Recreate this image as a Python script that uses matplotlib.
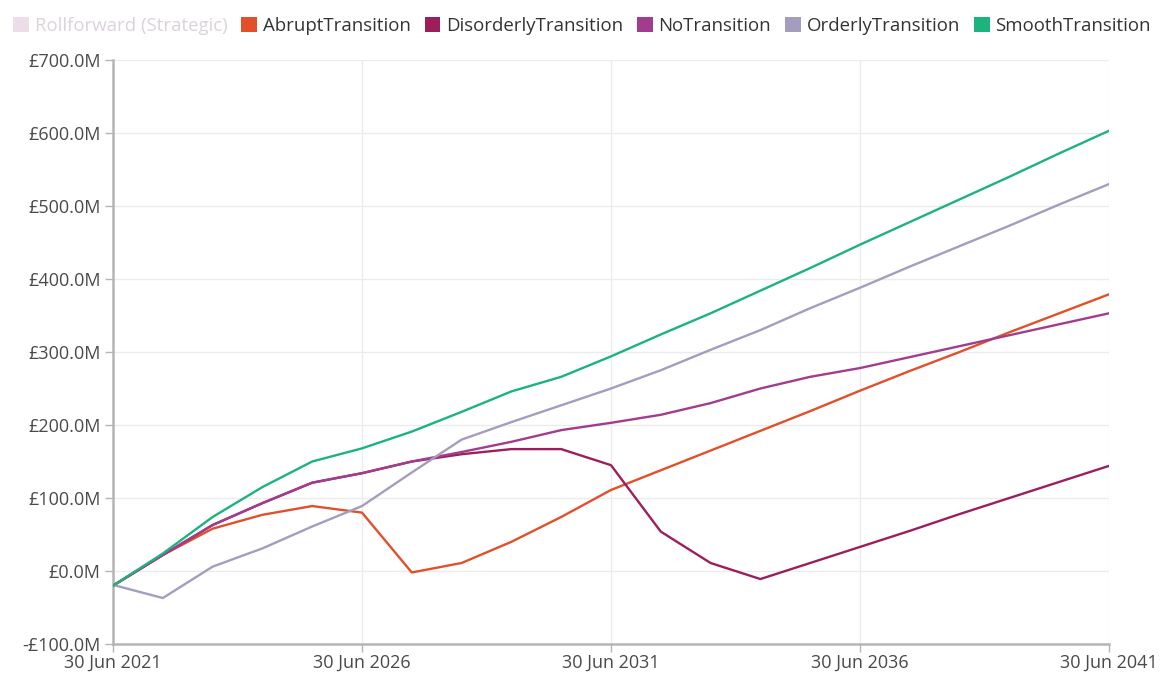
import matplotlib
matplotlib.use("Agg")
import matplotlib.pyplot as plt
from matplotlib.patches import Patch

plt.rcParams['font.family'] = ['Open Sans', 'DejaVu Sans']

years = list(range(2021, 2042))

abrupt = [-20, 22, 58, 77, 89, 80, -2, 11, 40, 74, 111,
          138, 165, 192, 219, 247, 274, 300, 327, 353, 379]
disorderly = [-20, 22, 63, 93, 121, 134, 150, 160, 167, 167, 145,
              54, 11, -11, 11, 33, 55, 78, 100, 122, 144]
no_transition = [-20, 22, 63, 93, 121, 134, 150, 163, 177, 193, 203,
                 214, 230, 250, 266, 278, 293, 308, 323, 338, 353]
orderly = [-19, -37, 6, 31, 61, 89, 135, 180, 204, 227, 250,
           275, 303, 330, 360, 388, 417, 445, 473, 502, 530]
smooth = [-20, 24, 74, 115, 150, 168, 191, 218, 246, 266, 294,
          324, 353, 384, 415, 447, 478, 509, 540, 572, 603]

series = [
    ("AbruptTransition", abrupt, "#E2502B"),
    ("DisorderlyTransition", disorderly, "#9C1F5C"),
    ("NoTransition", no_transition, "#A13C8E"),
    ("OrderlyTransition", orderly, "#A49DBF"),
    ("SmoothTransition", smooth, "#1CB37E"),
]

xtick_years = [2021, 2026, 2031, 2036, 2041]
xtick_labels = ["30 Jun %d" % y for y in xtick_years]
ytick_vals = list(range(-100, 701, 100))
ytick_labels = [("-£%.1fM" % abs(v)) if v < 0 else ("£%.1fM" % v) for v in ytick_vals]

fig = plt.figure(figsize=(11.64, 6.77), dpi=100)
ax = fig.add_axes([0.0971, 0.0487, 0.8556, 0.8627])

for name, vals, col in series:
    ax.plot(years, vals, color=col, linewidth=1.7, zorder=3)

ax.set_xlim(2021, 2041)
ax.set_ylim(-100, 700)
ax.set_xticks(xtick_years)
ax.set_xticklabels(xtick_labels)
ax.set_yticks(ytick_vals)
ax.set_yticklabels(ytick_labels)
ax.grid(True, color="#ECECEC", linewidth=1.0, zorder=0)
for s in ["top", "right"]:
    ax.spines[s].set_visible(False)
for s in ["left", "bottom"]:
    ax.spines[s].set_color("#B5B5B5")
    ax.spines[s].set_linewidth(1.8)
ax.tick_params(axis="both", colors="#B5B5B5", labelcolor="#4A4A4A",
               labelsize=13, length=6, width=1)
ax.tick_params(axis="x", pad=1)
ax.tick_params(axis="y", pad=3)

handles = [Patch(facecolor="#EDDDE8", edgecolor="none", label="Rollforward (Strategic)")]
handles += [Patch(facecolor=c, edgecolor="none", label=n) for n, v, c in series]
leg = fig.legend(handles=handles, loc="upper center", bbox_to_anchor=(0.5, 1.0),
                 ncol=6, frameon=False, fontsize=13.4, handlelength=0.85,
                 handleheight=0.85, handletextpad=0.3, columnspacing=0.75)
texts = leg.get_texts()
texts[0].set_color("#DCD2DA")
for t in texts[1:]:
    t.set_color("#333333")

fig.savefig("out.png", dpi=100)
